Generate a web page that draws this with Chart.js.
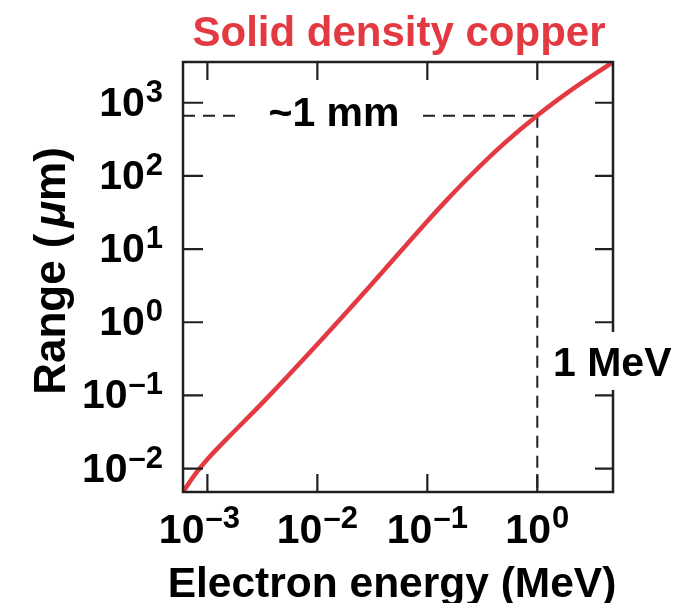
<!DOCTYPE html>
<html>
<head>
<meta charset="utf-8">
<script src="https://cdn.jsdelivr.net/npm/chart.js@4/dist/chart.umd.min.js"></script>
<style>
  html, body { margin: 0; padding: 0; background: #ffffff; }
  #wrap { width: 683px; height: 603px; }
</style>
</head>
<body>
<div id="wrap"><canvas id="chart" width="683" height="603"></canvas></div>
<script>
// Electron range in solid-density copper, energy in MeV, range in micrometres
const energyMeV = [0.0006, 0.000794, 0.001, 0.00158, 0.00316, 0.01, 0.03, 0.1, 0.15, 0.251, 0.5, 1.0, 2.0, 4.88];
const rangeUm   = [0.0048, 0.00877, 0.0134, 0.0275, 0.079, 0.5, 3.1, 24.0, 46.7, 103.8, 278, 670, 1462, 3606];

// Axis extents and decade ticks (exponents of ten)
const xLimits = [0.0006, 4.88];
const yLimits = [0.00478, 3606];
const xTickExps = [-3, -2, -1, 0];
const yTickExps = [-2, -1, 0, 1, 2, 3];

// Reference marker: 1 MeV electrons travel about 1 mm
const markerEnergy = 1.0;
const markerRange = 664;

const RED = '#e23a40';
const INK = '#231f20';
const FONT = '"Liberation Sans", Arial, Helvetica, sans-serif';

const curvePoints = energyMeV.map((e, i) => ({ x: e, y: rangeUm[i] }));
const hLine = [{ x: xLimits[0], y: markerRange }, { x: markerEnergy, y: markerRange }];
const vLine = [{ x: markerEnergy, y: markerRange }, { x: markerEnergy, y: yLimits[0] }];

// Draws "10" with a raised exponent; align: 'right' or 'center'
function drawPower(ctx, exp, x, yMain, ySup, align) {
  const base = '10';
  const sup = exp < 0 ? '\u2013' + Math.abs(exp) : String(exp);
  ctx.font = 'bold 41px ' + FONT;
  const w1 = ctx.measureText(base).width;
  ctx.font = 'bold 31px ' + FONT;
  const w2 = ctx.measureText(sup).width;
  const total = w1 + w2 + 1;
  const start = align === 'right' ? x - total : x - total / 2;
  ctx.textAlign = 'left';
  ctx.textBaseline = 'alphabetic';
  ctx.fillStyle = '#000';
  ctx.font = 'bold 41px ' + FONT;
  ctx.fillText(base, start, yMain);
  ctx.font = 'bold 31px ' + FONT;
  ctx.fillText(sup, start + w1 + 1, ySup);
}

const decorations = {
  id: 'decorations',
  afterDatasetsDraw(chart) {
    const { ctx, chartArea: a, scales: { x, y } } = chart;
    ctx.save();

    // frame
    ctx.strokeStyle = INK;
    ctx.lineWidth = 2.5;
    ctx.strokeRect(a.left, a.top, a.right - a.left, a.bottom - a.top);

    // inward tick marks
    ctx.lineWidth = 2.2;
    ctx.beginPath();
    xTickExps.forEach(e => {
      const px = x.getPixelForValue(Math.pow(10, e));
      ctx.moveTo(px, a.bottom); ctx.lineTo(px, a.bottom - 18);
      ctx.moveTo(px, a.top); ctx.lineTo(px, a.top + 18);
    });
    yTickExps.forEach(e => {
      const py = y.getPixelForValue(Math.pow(10, e));
      ctx.moveTo(a.left, py); ctx.lineTo(a.left + 20, py);
      ctx.moveTo(a.right, py); ctx.lineTo(a.right - 18, py);
    });
    ctx.stroke();

    // tick labels (the leftmost x label is nudged clear of the corner)
    xTickExps.forEach((e, i) => {
      const px = x.getPixelForValue(Math.pow(10, e)) + (i === 0 ? -8 : 0);
      drawPower(ctx, e, px, a.bottom + 51, a.bottom + 36, 'center');
    });
    yTickExps.forEach(e => {
      const py = y.getPixelForValue(Math.pow(10, e));
      drawPower(ctx, e, a.left - 20, py + 13, py - 1, 'right');
    });

    // "~1 mm" label sitting on the horizontal dashed line
    const yMark = y.getPixelForValue(markerRange);
    ctx.fillStyle = '#fff';
    ctx.fillRect(243, yMark - 16, 175, 32);
    ctx.fillStyle = '#000';
    ctx.font = 'bold 41px ' + FONT;
    ctx.textAlign = 'center';
    ctx.textBaseline = 'alphabetic';
    ctx.fillText('~1 mm', 334, yMark + 10);

    // "1 MeV" label over the right-hand axis
    const xMark = x.getPixelForValue(markerEnergy);
    ctx.fillStyle = '#fff';
    ctx.fillRect(xMark + 8, 332, 683 - xMark - 8, 58);
    ctx.fillStyle = '#000';
    ctx.textAlign = 'left';
    ctx.fillText('1 MeV', 553, 376);

    // title
    ctx.fillStyle = RED;
    ctx.font = 'bold 42px ' + FONT;
    ctx.textAlign = 'center';
    ctx.fillText('Solid density copper', 399, 46);

    // x-axis title
    ctx.fillStyle = '#000';
    ctx.font = 'bold 42.5px ' + FONT;
    ctx.fillText('Electron energy (MeV)', 392, 597);

    // y-axis title with italic mu
    ctx.translate(65, 271);
    ctx.rotate(-Math.PI / 2);
    const p1 = 'Range (', p2 = '\u03bc', p3 = 'm)';
    const size = 44;
    ctx.font = 'bold ' + size + 'px ' + FONT;
    const w1 = ctx.measureText(p1).width;
    const w3 = ctx.measureText(p3).width;
    ctx.font = 'italic bold ' + size + 'px ' + FONT;
    const w2 = ctx.measureText(p2).width;
    const gap = 6;
    const sx = -(w1 + gap + w2 + w3) / 2;
    ctx.textAlign = 'left';
    ctx.font = 'bold ' + size + 'px ' + FONT;
    ctx.fillText(p1, sx, 0);
    ctx.font = 'italic bold ' + size + 'px ' + FONT;
    ctx.fillText(p2, sx + w1 + gap, 0);
    ctx.font = 'bold ' + size + 'px ' + FONT;
    ctx.fillText(p3, sx + w1 + gap + w2, 0);

    ctx.restore();
  }
};

new Chart(document.getElementById('chart'), {
  type: 'line',
  data: {
    datasets: [
      {
        data: curvePoints,
        borderColor: RED,
        borderWidth: 4.5,
        pointRadius: 0,
        cubicInterpolationMode: 'monotone',
        fill: false
      },
      {
        data: hLine,
        borderColor: INK,
        borderWidth: 2,
        borderDash: [12, 8],
        pointRadius: 0,
        fill: false
      },
      {
        data: vLine,
        borderColor: INK,
        borderWidth: 2,
        borderDash: [12, 8],
        pointRadius: 0,
        fill: false
      }
    ]
  },
  options: {
    responsive: false,
    animation: false,
    events: [],
    layout: { padding: { left: 183, right: 70, top: 62, bottom: 111 } },
    plugins: { legend: { display: false }, tooltip: { enabled: false }, title: { display: false } },
    scales: {
      x: { type: 'logarithmic', min: xLimits[0], max: xLimits[1], display: false },
      y: { type: 'logarithmic', min: yLimits[0], max: yLimits[1], display: false }
    }
  },
  plugins: [decorations]
});
</script>
</body>
</html>
